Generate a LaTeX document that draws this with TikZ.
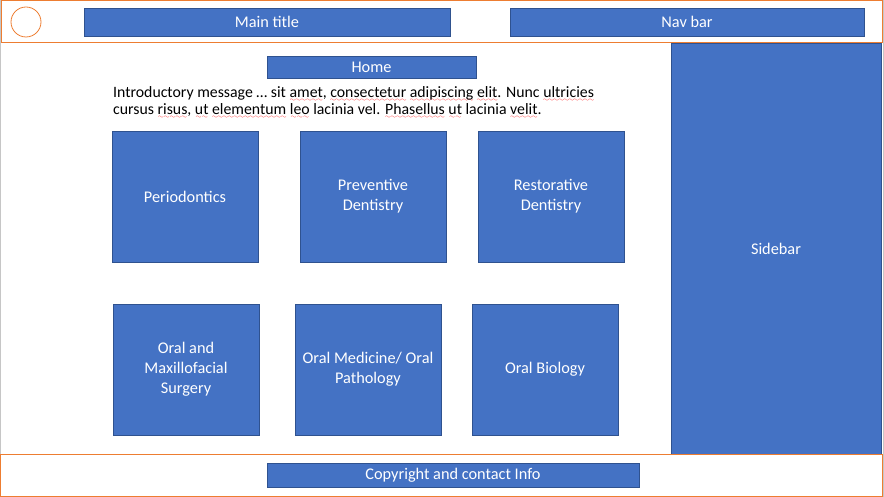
\documentclass[tikz,border=0pt]{standalone}
\usepackage{fontspec}
\setmainfont{Carlito}
\font\wavefont=lasy6
\newcommand\sperr[1]{\setbox0\hbox{#1}\rlap{\raisebox{-3.4pt}{\textcolor{red}{\hbox to \wd0{\xleaders\hbox{\wavefont\char58}\hfil}}}}\box0\relax}
\definecolor{bluefill}{HTML}{4472C4}
\definecolor{blueline}{HTML}{2F528F}
\definecolor{orangeline}{HTML}{ED7D31}
\tikzset{
  bluebox/.style={draw=blueline, fill=bluefill, line width=0.9pt, text=white, align=center, inner sep=2pt, font=\fontsize{16.3}{20}\selectfont},
  orangeframe/.style={draw=orangeline, line width=1pt},
}
\begin{document}
\begin{tikzpicture}[x=1pt,y=-1pt]
\useasboundingbox (0,0) rectangle (884,497);
% outer grey frame
\draw[gray!45, line width=1pt] (0.5,0.5) rectangle (883,496.5);
% header
\draw[orangeframe] (1,1) rectangle (882,43);
\node[draw=orangeline, line width=0.8pt, circle, minimum size=30, inner sep=0] (logo) at (26,22) {};
\node[bluebox, minimum width=366, minimum height=28] (title) at (267,22) {Main title};
\node[bluebox, minimum width=354, minimum height=28] (nav) at (687,22) {Nav bar};
% sidebar
\node[bluebox, minimum width=210, minimum height=411] (sidebar) at (776,248.5) {Sidebar};
% home
\node[bluebox, minimum width=209, minimum height=22] (home) at (371.5,67) {Home};
% intro
\node[anchor=north west, inner sep=0, align=left, font=\fontsize{15.8}{17.3}\selectfont] (intro) at (113,86.5)
 {Introductory message … sit \sperr{amet}, \sperr{consectetur} \sperr{adipiscing} \sperr{elit}. Nunc \sperr{ultricies}\\
  cursus \sperr{risus}, \sperr{ut} \sperr{elementum} \sperr{leo} lacinia vel. \sperr{Phasellus} \sperr{ut} lacinia \sperr{velit}.};
% row 1
\node[bluebox, minimum width=146, minimum height=131] (perio) at (185,196.5) {Periodontics};
\node[bluebox, minimum width=146, minimum height=131] (prev) at (373,196.5) {Preventive\\Dentistry};
\node[bluebox, minimum width=146, minimum height=131] (rest) at (551,196.5) {Restorative\\Dentistry};
% row 2
\node[bluebox, minimum width=146, minimum height=131] (oms) at (186,369.5) {Oral and\\Maxillofacial\\Surgery};
\node[bluebox, minimum width=146, minimum height=131] (omp) at (368,369.5) {Oral Medicine/ Oral\\Pathology};
\node[bluebox, minimum width=146, minimum height=131] (obio) at (545,369.5) {Oral Biology};
% footer
\draw[orangeframe] (0.5,454) rectangle (882,496);
\node[bluebox, minimum width=372, minimum height=24] (copy) at (453,475) {Copyright and contact Info};
\end{tikzpicture}
\end{document}
